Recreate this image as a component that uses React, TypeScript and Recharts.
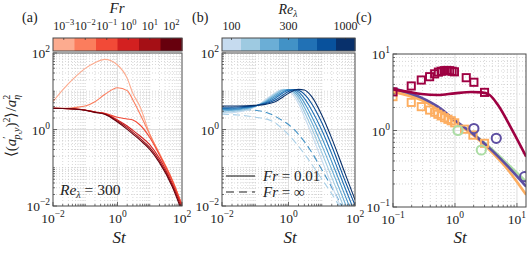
import React from 'react';
import { ComposedChart, Line, Scatter, XAxis, YAxis, CartesianGrid } from 'recharts';

const FONT = '"Liberation Serif", "Times New Roman", serif';
const W = 532;
const H = 256;

// ---------- panel (a): Re = 300, varying Fr ----------
const frTickLabels = ['-3', '-2', '-1', '0', '1', '2'];
const frColors = ['#fcab8f', '#fb7d5d', '#f24a37', '#d32020', '#a50f15', '#67000d'];
const stA = [0.01, 0.02, 0.05, 0.1, 0.2, 0.4, 1, 2, 3, 5, 10, 20, 50, 100];
const aFr1e3 = [5.33, 10.8, 24, 39.7, 55.8, 68, 48.5, 21.7, 8.8, 3.95, 0.77, 0.238, 0.048, 0.0106];
const aFr1e2 = [3.57, 3.57, 3.79, 4.11, 5.33, 8.2, 12.4, 10.4, 5.9, 2.54, 0.74, 0.229, 0.048, 0.0106];
const aFr1e1 = [3.57, 3.55, 3.43, 3.23, 2.86, 2.65, 2.08, 1.88, 1.77, 1.31, 0.62, 0.215, 0.046, 0.0106];
const aFr1 = [3.57, 3.55, 3.43, 3.23, 2.86, 2.6, 1.77, 1.23, 0.95, 0.676, 0.4, 0.176, 0.039, 0.0096];
const aFr10 = [3.57, 3.55, 3.42, 3.2, 2.83, 2.55, 1.67, 1.12, 0.84, 0.588, 0.341, 0.153, 0.0354, 0.0082];
const aFr100 = [3.57, 3.55, 3.4, 3.18, 2.8, 2.5, 1.57, 1.01, 0.76, 0.53, 0.303, 0.136, 0.032, 0.0071];
const aSeries = [aFr1e3, aFr1e2, aFr1e1, aFr1, aFr10, aFr100];

// ---------- panel (b): Fr = 0.01 (solid), Fr = inf (dashed), varying Re ----------
const reTickLabels = ['100', '300', '1000'];
const reColors = ['#c6dbef', '#9ecae1', '#6baed6', '#4292c6', '#2171b5', '#08519c', '#08306b'];
const stB = [0.01, 0.03, 0.1, 0.2, 0.4, 0.7, 1, 1.5, 2, 3, 5, 10, 20, 50, 100];
const bRe0 = [2.64, 2.86, 3.95, 5.9, 9.2, 11.2, 10.4, 7.2, 4.8, 2.16, 0.75, 0.159, 0.035, 0.005, 0.001];
const bRe1 = [2.85, 3.05, 4.0, 5.6, 8.6, 11.0, 10.9, 8.4, 5.9, 2.9, 1.08, 0.25, 0.056, 0.0078, 0.0016];
const bRe2 = [3.05, 3.25, 4.05, 5.35, 8.0, 10.6, 11.1, 9.4, 7.1, 3.8, 1.55, 0.39, 0.09, 0.012, 0.0026];
const bRe3 = [3.3, 3.45, 4.1, 5.1, 7.3, 9.9, 11.1, 10.3, 8.4, 5.0, 2.2, 0.62, 0.144, 0.019, 0.0042];
const bRe4 = [3.55, 3.65, 4.15, 4.9, 6.6, 9.1, 10.7, 10.9, 9.6, 6.5, 3.2, 0.97, 0.23, 0.03, 0.0066];
const bRe5 = [3.8, 3.88, 4.2, 4.7, 5.9, 8.1, 9.9, 11.1, 10.6, 8.4, 4.7, 1.52, 0.37, 0.046, 0.0105];
const bRe6 = [4.11, 4.11, 4.28, 4.54, 5.33, 7.2, 8.8, 10.6, 11.2, 10.8, 7.2, 2.39, 0.587, 0.0715, 0.0146];
const bSeries = [bRe0, bRe1, bRe2, bRe3, bRe4, bRe5, bRe6];
const dashMidSt = [0.01, 0.03, 0.1, 0.3, 0.7, 1, 2, 4.4, 10, 28, 60];
const dashMidV = [3.45, 3.4, 3.2, 2.5, 1.65, 1.35, 0.75, 0.3, 0.09, 0.018, 0.005];
const dashLightSt = [0.01, 0.03, 0.1, 0.3, 0.9, 2.8, 8.8, 28, 60];
const dashLightV = [2.5, 2.4, 2.1, 1.7, 0.8, 0.25, 0.06, 0.013, 0.004];

// ---------- panel (c): comparison ----------
const cCrimson = '#9e0142';
const cOrange = '#fdae61';
const cGreen = '#abdda4';
const cPurple = '#5e4fa2';
const lineCSt = [0.1, 0.286, 0.53, 0.99, 2.07, 3.4, 7.2, 14.1];
const linePurpleV = [3.56, 2.69, 2.05, 1.37, 0.87, 0.615, 0.337, 0.185];
const lineGreenV = [3.3, 2.55, 1.95, 1.33, 0.87, 0.63, 0.36, 0.214];
const lineOrangeV = [3.2, 2.5, 1.9, 1.3, 0.84, 0.585, 0.305, 0.144];
const lineCrimsonSt = [0.1, 0.175, 0.286, 0.53, 0.99, 1.83, 2.66, 3.63, 4.94, 8.1, 14.1];
const lineCrimsonV = [3.45, 3.2, 3.0, 2.91, 3.06, 3.18, 3.15, 2.91, 2.15, 1.07, 0.455];
const sqCrimsonSt = [0.1, 0.197, 0.286, 0.39, 0.47, 0.54, 0.6, 0.67, 0.74, 0.82, 0.9, 0.98, 1.52, 2.02, 3.0];
const sqCrimsonV = [3.2, 3.82, 4.57, 5.05, 5.5, 5.8, 5.95, 6.05, 6.1, 6.05, 5.95, 5.85, 4.9, 4.27, 3.15];
const sqOrangeSt = [0.1, 0.197, 0.286, 0.39, 0.47, 0.53, 0.6, 0.68, 0.77, 0.87, 0.99, 1.43, 1.95, 3.0];
const sqOrangeV = [2.77, 2.33, 2.05, 1.85, 1.73, 1.63, 1.55, 1.47, 1.4, 1.34, 1.26, 1.04, 0.87, 0.68];
const ciGreenSt = [1.12, 2.66];
const ciGreenV = [1.0, 0.556];
const ciPurpleSt = [2.02, 4.64, 13.3];
const ciPurpleV = [1.06, 0.79, 0.249];

// ---------- helpers ----------
const pts = (xs: number[], ys: number[]) => xs.map((x, i) => ({ St: x, v: ys[i] }));
const decadeMinors = (from: number, to: number, skip: number[]) => {
  const out: number[] = [];
  for (let e = from; e < to; e++) {
    for (let k = 1; k <= 9; k++) {
      const v = Number((k * Math.pow(10, e)).toPrecision(3));
      if (!skip.some((s) => Math.abs(s - v) / s < 1e-6)) out.push(v);
    }
  }
  return out;
};
const isIn = (v: number, arr: number[]) => arr.some((m) => Math.abs(m - v) / m < 1e-6);
const expStr = (v: number) => {
  const e = Math.round(Math.log10(v));
  return (e < 0 ? '\u2212' : '') + Math.abs(e);
};

const makeXTick = (bottom: number, majors: number[]) => (p: any) => {
  const v = p.payload.value;
  const major = isIn(v, majors);
  return (
    <g>
      <line x1={p.x} x2={p.x} y1={bottom} y2={bottom - (major ? 4 : 2)} stroke="#333" strokeWidth={0.7} />
      {major && (
        <text x={p.x} y={bottom + 17} textAnchor="middle" fontFamily={FONT} fontSize={13.5} fill="#222">
          10<tspan dy={-6} fontSize={9.5}>{expStr(v)}</tspan>
        </text>
      )}
    </g>
  );
};
const makeYTick = (left: number, majors: number[]) => (p: any) => {
  const v = p.payload.value;
  const major = isIn(v, majors);
  return (
    <g>
      <line x1={left} x2={left + (major ? 4 : 2)} y1={p.y} y2={p.y} stroke="#333" strokeWidth={0.7} />
      {major && (
        <text x={left - 3} y={p.y + 5} textAnchor="end" fontFamily={FONT} fontSize={13.5} fill="#222">
          10<tspan dy={-6} fontSize={9.5}>{expStr(v)}</tspan>
        </text>
      )}
    </g>
  );
};

type Box = { L: number; R: number; T: number; B: number };
const boxA: Box = { L: 53, R: 182, T: 53, B: 206 };
const boxB: Box = { L: 222, R: 355, T: 53, B: 206 };
const boxC: Box = { L: 393, R: 526, T: 54, B: 207 };
const AXW = 30;
const AXH = 30;
const marginOf = (b: Box) => ({ left: b.L - AXW, right: W - b.R, top: b.T, bottom: H - b.B - AXH });

const abMajors = [0.01, 1, 100];
const abMinors = decadeMinors(-2, 2, abMajors);
const abTicks = [...abMajors, ...abMinors].sort((a, b) => a - b);
const cMajors = [0.1, 1, 10];
const cMinorsX = decadeMinors(-1, 1, cMajors);
const cMinorsY = decadeMinors(-1, 1, cMajors);
const cTicksX = [...cMajors, ...cMinorsX].sort((a, b) => a - b);

const gridMinor = { stroke: '#bdbdbd', strokeDasharray: '1 2', strokeWidth: 0.6 };
const gridMajor = { stroke: '#dedede', strokeWidth: 1 };

const abs = (z: number): React.CSSProperties => ({ position: 'absolute', left: 0, top: 0, zIndex: z });

function PanelA() {
  const rows = stA.map((s, i) => {
    const r: any = { St: s };
    aSeries.forEach((arr, k) => (r['f' + k] = arr[i]));
    return r;
  });
  return (
    <div style={abs(1)}>
      <ComposedChart width={W} height={H} data={rows} margin={marginOf(boxA)}>
        <CartesianGrid {...gridMinor} verticalValues={abMinors} horizontalValues={abMinors} />
        <CartesianGrid {...gridMajor} verticalValues={[1]} horizontalValues={[1]} />
        <XAxis dataKey="St" type="number" scale="log" domain={[0.01, 100]} allowDataOverflow ticks={abTicks}
          interval={0} height={AXH} axisLine={false} tickLine={false} tick={makeXTick(boxA.B, abMajors)} />
        <YAxis type="number" scale="log" domain={[0.01, 100]} allowDataOverflow ticks={abTicks}
          interval={0} width={AXW} axisLine={false} tickLine={false} tick={makeYTick(boxA.L, abMajors)} />
        {aSeries.map((_, k) => (
          <Line key={k} type="monotone" dataKey={'f' + k} stroke={frColors[k]} strokeWidth={1.1}
            dot={false} isAnimationActive={false} />
        ))}
      </ComposedChart>
    </div>
  );
}

function PanelB() {
  const rows = stB.map((s, i) => {
    const r: any = { St: s };
    bSeries.forEach((arr, k) => (r['r' + k] = arr[i]));
    return r;
  });
  return (
    <div style={abs(2)}>
      <ComposedChart width={W} height={H} data={rows} margin={marginOf(boxB)}>
        <CartesianGrid {...gridMinor} verticalValues={abMinors} horizontalValues={abMinors} />
        <CartesianGrid {...gridMajor} verticalValues={[1]} horizontalValues={[1]} />
        <XAxis dataKey="St" type="number" scale="log" domain={[0.01, 100]} allowDataOverflow ticks={abTicks}
          interval={0} height={AXH} axisLine={false} tickLine={false} tick={makeXTick(boxB.B, abMajors)} />
        <YAxis type="number" scale="log" domain={[0.01, 100]} allowDataOverflow ticks={abTicks}
          interval={0} width={AXW} axisLine={false} tickLine={false} tick={makeYTick(boxB.L, abMajors)} />
        <Line data={pts(dashLightSt, dashLightV)} type="monotone" dataKey="v" stroke="#a9cfe7" strokeWidth={1.1}
          strokeDasharray="7 4" dot={false} isAnimationActive={false} />
        <Line data={pts(dashMidSt, dashMidV)} type="monotone" dataKey="v" stroke="#4292c6" strokeWidth={1.1}
          strokeDasharray="7 4" dot={false} isAnimationActive={false} />
        {bSeries.map((_, k) => (
          <Line key={k} type="monotone" dataKey={'r' + k} stroke={reColors[k]} strokeWidth={1.1}
            dot={false} isAnimationActive={false} />
        ))}
      </ComposedChart>
    </div>
  );
}

const squareShape = (color: string) => (p: any) => (
  <rect x={p.cx - 3.6} y={p.cy - 3.6} width={7.2} height={7.2} fill="none" stroke={color} strokeWidth={1.9} />
);
const circleShape = (color: string) => (p: any) => (
  <circle cx={p.cx} cy={p.cy} r={4.6} fill="none" stroke={color} strokeWidth={2} />
);

function PanelC() {
  return (
    <div style={abs(3)}>
      <ComposedChart width={W} height={H} margin={marginOf(boxC)}>
        <CartesianGrid {...gridMinor} verticalValues={cMinorsX} horizontalValues={cMinorsY} />
        <CartesianGrid {...gridMajor} verticalValues={[1, 10]} horizontalValues={[1]} />
        <XAxis dataKey="St" type="number" scale="log" domain={[0.1, 14]} allowDataOverflow ticks={cTicksX}
          interval={0} height={AXH} axisLine={false} tickLine={false} tick={makeXTick(boxC.B, cMajors)} />
        <YAxis type="number" scale="log" domain={[0.1, 10]} allowDataOverflow ticks={cTicksX.filter((t) => t <= 10)}
          interval={0} width={AXW} axisLine={false} tickLine={false} tick={makeYTick(boxC.L, cMajors)} />
        <Line data={pts(lineCSt, lineGreenV)} type="monotone" dataKey="v" stroke={cGreen} strokeWidth={2.6}
          dot={false} isAnimationActive={false} />
        <Line data={pts(lineCSt, lineOrangeV)} type="monotone" dataKey="v" stroke={cOrange} strokeWidth={2.6}
          dot={false} isAnimationActive={false} />
        <Line data={pts(lineCSt, linePurpleV)} type="monotone" dataKey="v" stroke={cPurple} strokeWidth={2.6}
          dot={false} isAnimationActive={false} />
        <Line data={pts(lineCrimsonSt, lineCrimsonV)} type="monotone" dataKey="v" stroke={cCrimson} strokeWidth={2.6}
          dot={false} isAnimationActive={false} />
        <Scatter data={pts(sqOrangeSt, sqOrangeV)} dataKey="v" shape={squareShape(cOrange)} isAnimationActive={false} />
        <Scatter data={pts(sqCrimsonSt, sqCrimsonV)} dataKey="v" shape={squareShape(cCrimson)} isAnimationActive={false} />
        <Scatter data={pts(ciGreenSt, ciGreenV)} dataKey="v" shape={circleShape(cGreen)} isAnimationActive={false} />
        <Scatter data={pts(ciPurpleSt, ciPurpleV)} dataKey="v" shape={circleShape(cPurple)} isAnimationActive={false} />
      </ComposedChart>
    </div>
  );
}

function Overlay() {
  const cbA = { x: boxA.L, w: boxA.R - boxA.L, y: 38, h: 13 };
  const cbB = { x: boxB.L, w: boxB.R - boxB.L, y: 38, h: 13 };
  const segA = cbA.w / frColors.length;
  const segB = cbB.w / reColors.length;
  const reTickIdx = [0, 3, 6];
  const t = { fontFamily: FONT, fill: '#222' } as const;
  return (
    <svg width={W} height={H} style={{ ...abs(10), pointerEvents: 'none' }}>
      {/* plot boxes */}
      {[boxA, boxB, boxC].map((b, i) => (
        <rect key={i} x={b.L} y={b.T} width={b.R - b.L} height={b.B - b.T} fill="none" stroke="#4a4a4a" strokeWidth={1} />
      ))}
      {/* panel labels */}
      <text x={22} y={22} fontSize={14} {...t}>(a)</text>
      <text x={192} y={22} fontSize={14} {...t}>(b)</text>
      <text x={356} y={22} fontSize={14} {...t}>(c)</text>
      {/* colorbar a */}
      {frColors.map((c, i) => (
        <rect key={i} x={cbA.x + i * segA} y={cbA.y} width={segA + 0.5} height={cbA.h} fill={c} />
      ))}
      <rect x={cbA.x} y={cbA.y} width={cbA.w} height={cbA.h} fill="none" stroke="#4a4a4a" strokeWidth={1} />
      {frTickLabels.map((e, i) => (
        <g key={i}>
          <line x1={cbA.x + (i + 0.5) * segA} x2={cbA.x + (i + 0.5) * segA} y1={cbA.y} y2={cbA.y + 2} stroke="#333" strokeWidth={0.7} />
          <text x={cbA.x + (i + 0.5) * segA} y={30} textAnchor="middle" fontSize={12} {...t}>
            10<tspan dy={-5} fontSize={8.5}>{e.replace('-', '\u2212')}</tspan>
          </text>
        </g>
      ))}
      <text x={117} y={13} textAnchor="middle" fontSize={15} fontStyle="italic" {...t}>Fr</text>
      {/* colorbar b */}
      {reColors.map((c, i) => (
        <rect key={i} x={cbB.x + i * segB} y={cbB.y} width={segB + 0.5} height={cbB.h} fill={c} />
      ))}
      <rect x={cbB.x} y={cbB.y} width={cbB.w} height={cbB.h} fill="none" stroke="#4a4a4a" strokeWidth={1} />
      {reTickLabels.map((lab, i) => (
        <g key={i}>
          <line x1={cbB.x + (reTickIdx[i] + 0.5) * segB} x2={cbB.x + (reTickIdx[i] + 0.5) * segB} y1={cbB.y} y2={cbB.y + 2} stroke="#333" strokeWidth={0.7} />
          <text x={cbB.x + (reTickIdx[i] + 0.5) * segB} y={30} textAnchor="middle" fontSize={12} {...t}>{lab}</text>
        </g>
      ))}
      <text x={288} y={14} textAnchor="middle" fontSize={14} {...t}>
        <tspan fontStyle="italic">Re</tspan><tspan dy={3} fontSize={9.5} fontStyle="italic">λ</tspan>
      </text>
      {/* y-axis label (a) */}
      <g transform="translate(16,126) rotate(-90)">
        <text x={0} y={0} textAnchor="middle" fontSize={15} {...t}>
          ⟨(<tspan fontStyle="italic">a</tspan>
          <tspan dy={-6} fontSize={10}>′</tspan>
          <tspan dx={-3} dy={10} fontSize={10} fontStyle="italic">p,y</tspan>
          <tspan dy={-4}>)</tspan>
          <tspan dy={-6} fontSize={10}>2</tspan>
          <tspan dy={6}>⟩/</tspan>
          <tspan fontStyle="italic">a</tspan>
          <tspan dy={-6} fontSize={10}>2</tspan>
          <tspan dx={-5} dy={10} fontSize={10} fontStyle="italic">η</tspan>
        </text>
      </g>
      {/* x labels */}
      <text x={119} y={243} textAnchor="middle" fontSize={17} fontStyle="italic" {...t}>St</text>
      <text x={290} y={243} textAnchor="middle" fontSize={17} fontStyle="italic" {...t}>St</text>
      <text x={460} y={243} textAnchor="middle" fontSize={17} fontStyle="italic" {...t}>St</text>
      {/* Re label in (a) */}
      <text x={60} y={195} fontSize={15.5} {...t}>
        <tspan fontStyle="italic">Re</tspan><tspan dy={3} fontSize={10} fontStyle="italic">λ</tspan>
        <tspan dy={-3}> = 300</tspan>
      </text>
      {/* legend (b) */}
      <line x1={226} x2={255} y1={176} y2={176} stroke="#222" strokeWidth={1.1} />
      <line x1={226} x2={255} y1={192} y2={192} stroke="#222" strokeWidth={1.1} strokeDasharray="8 5" />
      <text x={263} y={181} fontSize={15} {...t}><tspan fontStyle="italic">Fr</tspan> = 0.01</text>
      <text x={263} y={197} fontSize={15} {...t}><tspan fontStyle="italic">Fr</tspan> = ∞</text>
    </svg>
  );
}

export default function App() {
  return (
    <div style={{ position: 'absolute', left: 0, top: 0, width: W, height: H, background: '#fff', overflow: 'hidden' }}>
      <PanelA />
      <PanelB />
      <PanelC />
      <Overlay />
    </div>
  );
}
